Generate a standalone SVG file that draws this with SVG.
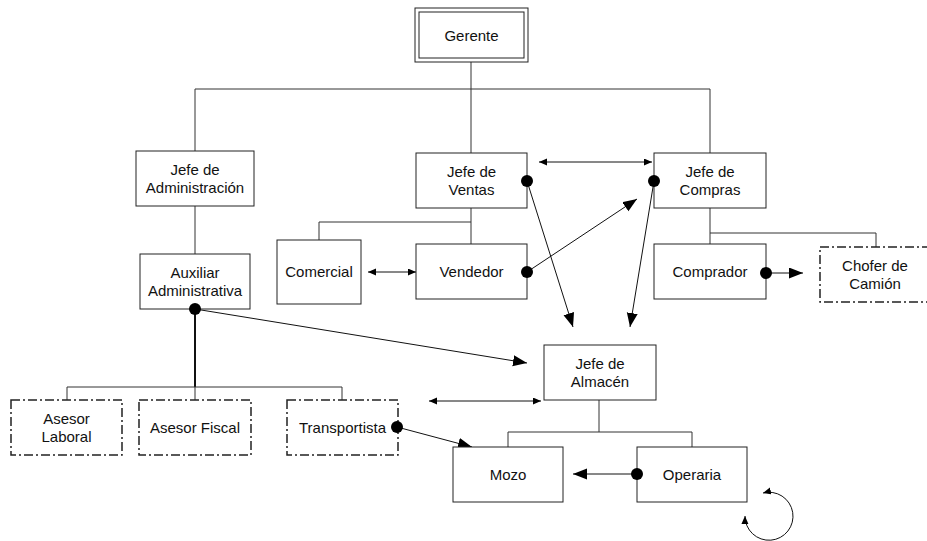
<svg xmlns="http://www.w3.org/2000/svg" width="927" height="541" viewBox="0 0 927 541">
<style>
.box{fill:#fff;stroke:#222;stroke-width:1}
.dd{fill:#fff;stroke:#222;stroke-width:1.5;stroke-dasharray:9,3,2,3}
text{font-family:"Liberation Sans",Arial,sans-serif;font-size:15px;fill:#111;text-anchor:middle}
.ln{fill:none;stroke:#333;stroke-width:1}
.thick{fill:none;stroke:#111;stroke-width:2}
.ar{fill:none;stroke:#111;stroke-width:1}
.big{marker-end:url(#big)}
.dbl{marker-start:url(#sm);marker-end:url(#sm)}
.dot{fill:#000}
</style>
<defs>
<marker id="big" markerUnits="userSpaceOnUse" markerWidth="16" markerHeight="12" refX="14" refY="5.5" orient="auto"><path d="M0,0 L14,5.5 L0,11 z" fill="#000"/></marker>
<marker id="sm" markerUnits="userSpaceOnUse" markerWidth="10" markerHeight="8" refX="8" refY="3.5" orient="auto-start-reverse"><path d="M0,0 L8,3.5 L0,7 z" fill="#000"/></marker>
</defs>
<g id="connectors">
<path class="ln" d="M471,62 V89 M195,89 H710 M195,89 V151 M471,89 V153 M710,89 V153"/>
<path class="ln" d="M195,206 V254"/>
<path class="ln" d="M471,208 V244 M471,222 H319 V240"/>
<path class="ln" d="M710,208 V244 M710,233 H876 V247"/>
<path class="thick" d="M195,309 V387"/>
<path class="ln" d="M195,387 V400 M67,387 H342 M67,387 V400 M342,387 V400"/>
<path class="ln" d="M599,400 V432 M508,432 H692 M508,432 V447 M692,432 V447"/>
<line class="ar dbl" x1="539" y1="162" x2="652" y2="162"/>
<line class="ar dbl" x1="368" y1="272" x2="416" y2="272"/>
<line class="ar dbl" x1="429" y1="401" x2="541" y2="401"/>
<line class="ar big" x1="527" y1="181" x2="573" y2="327"/>
<line class="ar big" x1="654" y1="181" x2="630" y2="327"/>
<line class="ar big" x1="527" y1="272" x2="637" y2="199"/>
<line class="ar big" x1="766" y1="273" x2="803" y2="273"/>
<line class="ar big" x1="195" y1="309" x2="527" y2="363"/>
<line class="ar big" x1="397" y1="427" x2="472" y2="447"/>
<line class="ar big" x1="637" y1="474" x2="573" y2="474"/>
<path class="ar" d="M763,493 A24,24 0 1 1 745,516" marker-start="url(#sm)" marker-end="url(#sm)"/>
</g>
<g id="gerente"><rect class="box" x="415" y="8" width="113" height="54"/><rect class="box" x="419" y="12" width="105" height="46"/><text x="471.5" y="41">Gerente</text></g>
<g id="jefe-admin"><rect class="box" x="136" y="151" width="118" height="55"/><text x="195" y="175">Jefe de</text><text x="195" y="193">Administración</text></g>
<g id="jefe-ventas"><rect class="box" x="416" y="153" width="111" height="55"/><text x="471.5" y="177">Jefe de</text><text x="471.5" y="195">Ventas</text></g>
<g id="jefe-compras"><rect class="box" x="654" y="153" width="112" height="55"/><text x="710" y="177">Jefe de</text><text x="710" y="195">Compras</text></g>
<g id="auxiliar"><rect class="box" x="140" y="254" width="110" height="55"/><text x="195" y="278">Auxiliar</text><text x="195" y="296">Administrativa</text></g>
<g id="comercial"><rect class="box" x="277" y="240" width="84" height="64"/><text x="319" y="277">Comercial</text></g>
<g id="vendedor"><rect class="box" x="416" y="244" width="111" height="55"/><text x="471.5" y="277">Vendedor</text></g>
<g id="comprador"><rect class="box" x="654" y="244" width="112" height="55"/><text x="710" y="277">Comprador</text></g>
<g id="chofer"><rect class="dd" x="820" y="247" width="115" height="55"/><text x="875" y="271">Chofer de</text><text x="875" y="289">Camión</text></g>
<g id="asesor-laboral"><rect class="dd" x="11" y="400" width="111" height="55"/><text x="66.5" y="424">Asesor</text><text x="66.5" y="442">Laboral</text></g>
<g id="asesor-fiscal"><rect class="dd" x="139" y="400" width="112" height="55"/><text x="195" y="433">Asesor Fiscal</text></g>
<g id="transportista"><rect class="dd" x="287" y="400" width="111" height="55"/><text x="342.5" y="433">Transportista</text></g>
<g id="jefe-almacen"><rect class="box" x="544" y="345" width="112" height="55"/><text x="600" y="369">Jefe de</text><text x="600" y="387">Almacén</text></g>
<g id="mozo"><rect class="box" x="453" y="447" width="110" height="55"/><text x="508" y="480">Mozo</text></g>
<g id="operaria"><rect class="box" x="637" y="447" width="110" height="55"/><text x="692" y="480">Operaria</text></g>
<g id="dots">
<circle class="dot" cx="527" cy="181" r="6"/>
<circle class="dot" cx="654" cy="181" r="6"/>
<circle class="dot" cx="527" cy="272" r="6"/>
<circle class="dot" cx="766" cy="273" r="6"/>
<circle class="dot" cx="195" cy="309" r="6"/>
<circle class="dot" cx="397" cy="427" r="6"/>
<circle class="dot" cx="637" cy="474" r="6"/>
</g>
</svg>
